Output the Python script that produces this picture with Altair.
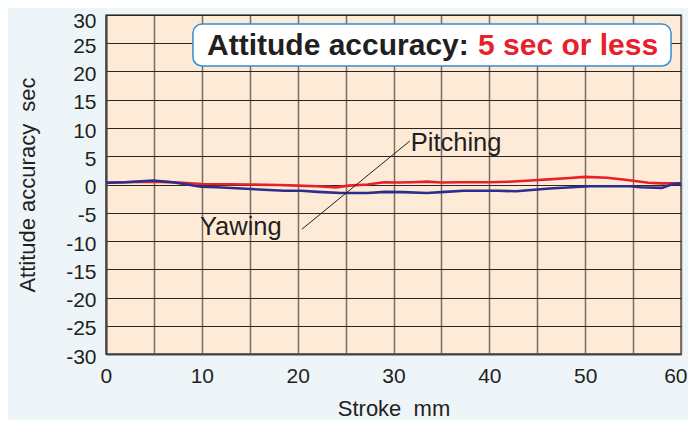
import altair as alt
import pandas as pd

# ---- data ----
pitch_x = [0, 2, 5, 8, 10, 13, 15, 18, 20, 22, 24, 25.3, 27.3, 29, 30.5, 32, 33.5, 35, 37, 40, 42, 44.3, 46.2, 48, 50, 52.3, 54.4, 56.6, 58, 60]
pitch_y = [0.3, 0.4, 0.5, 0.3, 0.1, 0.05, 0.0, -0.1, -0.2, -0.3, -0.5, -0.2, 0.0, 0.4, 0.35, 0.4, 0.5, 0.35, 0.4, 0.4, 0.5, 0.7, 0.9, 1.1, 1.35, 1.2, 0.8, 0.3, 0.2, 0.2]

yaw_x = [0, 2, 4.9, 7, 9.9, 11.6, 15.1, 18.6, 20.4, 22.1, 24.5, 27.3, 29.1, 31, 33.5, 35.4, 37.3, 40.9, 42.8, 46.3, 50.5, 54.7, 55.8, 58, 59, 60]
yaw_y = [0.3, 0.4, 0.7, 0.4, -0.4, -0.5, -0.8, -1.1, -1.1, -1.3, -1.5, -1.5, -1.3, -1.35, -1.5, -1.3, -1.1, -1.1, -1.2, -0.7, -0.3, -0.3, -0.5, -0.6, 0.0, 0.2]

series_names = ["Pitching", "Yawing"]
series_colors = ["#e8202a", "#2b2e8c"]

x_ticks = list(range(0, 61, 5))
y_ticks = list(range(-30, 31, 5))

# annotation labels (data coordinates)
label_text = ["Pitching", "Yawing"]
label_x = [31.8, 9.8]
label_y = [7.35, -7.6]
leader_x = [20.45]
leader_y = [-7.9]
leader_x2 = [31.7]
leader_y2 = [7.7]

# title box (data coordinates)
box_x = [9.07]
box_x2 = [58.96]
box_y = [28.4]
box_y2 = [20.97]
title_parts = ["Attitude accuracy:", "5 sec or less"]
title_x = [10.54, 38.82]
title_y = [24.6, 24.6]
title_colors = ["#231f20", "#e8202a"]

FONT = "Liberation Sans"

df = pd.concat([
    pd.DataFrame({"x": pitch_x, "y": pitch_y, "s": "Pitching"}),
    pd.DataFrame({"x": yaw_x, "y": yaw_y, "s": "Yawing"}),
])

xscale = alt.Scale(domain=[0, 60], nice=False, zero=False)
yscale = alt.Scale(domain=[-30, 30], nice=False, zero=False)

xaxis = alt.Axis(
    values=x_ticks,
    labelExpr="datum.value % 10 == 0 ? '' + datum.value : ''",
    title="Stroke\u00a0 mm",
    ticks=False,
    grid=True,
    gridColor="#7a6c62",
    gridWidth=1.5,
    domainColor="#444444",
    domainWidth=2,
    labelFont=FONT,
    labelFontSize=21,
    labelColor="#231f20",
    labelPadding=11,
    labelFlush=True,
    labelFlushOffset=6,
    labelOverlap=False,
    titleFont=FONT,
    titleFontSize=22,
    titleFontWeight="normal",
    titleColor="#231f20",
    titlePadding=12,
)
yaxis = alt.Axis(
    values=y_ticks,
    labelExpr="'' + datum.value",
    title="Attitude accuracy\u00a0 sec",
    ticks=False,
    grid=True,
    gridColor="#2a2626",
    gridWidth=1,
    domainColor="#444444",
    domainWidth=2,
    labelFont=FONT,
    labelFontSize=21,
    labelColor="#231f20",
    labelPadding=10,
    labelOffset={"condition": {"test": "datum.value == 30", "value": 6}, "value": 3},
    labelFlush=False,
    labelOverlap=False,
    titleFont=FONT,
    titleFontSize=22,
    titleFontWeight="normal",
    titleColor="#231f20",
    titlePadding=26,
)

X = lambda f: alt.X(f, scale=xscale, axis=xaxis)
Y = lambda f: alt.Y(f, scale=yscale, axis=yaxis)

lines = alt.Chart(df).mark_line(strokeWidth=2.6).encode(
    x=X("x:Q"),
    y=Y("y:Q"),
    color=alt.Color("s:N", scale=alt.Scale(domain=series_names, range=series_colors), legend=None),
)

leader = alt.Chart(pd.DataFrame({"x": leader_x, "y": leader_y, "x2": leader_x2, "y2": leader_y2})).mark_rule(
    color="#231f20", strokeWidth=1
).encode(x=X("x:Q"), y=Y("y:Q"), x2="x2:Q", y2="y2:Q")

labels = alt.Chart(pd.DataFrame({"x": label_x, "y": label_y, "t": label_text})).mark_text(
    align="left", baseline="middle", font=FONT, fontSize=25.5, color="#231f20"
).encode(x=X("x:Q"), y=Y("y:Q"), text="t:N")

box = alt.Chart(pd.DataFrame({"x": box_x, "x2": box_x2, "y": box_y, "y2": box_y2})).mark_rect(
    fill="white", stroke="#2f8fd6", strokeWidth=1.5, cornerRadius=9
).encode(x=X("x:Q"), y=Y("y:Q"), x2="x2:Q", y2="y2:Q")

title = alt.Chart(pd.DataFrame({"x": title_x, "y": title_y, "t": title_parts, "c": title_colors})).mark_text(
    align="left", baseline="middle", font=FONT, fontSize=30, fontWeight="bold"
).encode(x=X("x:Q"), y=Y("y:Q"), text="t:N", color=alt.Color("c:N", scale=None))

chart = alt.layer(lines, leader, labels, box, title).properties(
    width=575,
    height=339,
    autosize=alt.AutoSizeParams(type="none"),
    padding={"left": 98, "top": 7, "right": 7, "bottom": 66},
    background="#eef5f8",
).configure_view(
    fill="#fdebd8",
    stroke="#5a514b",
    strokeWidth=1.5,
)

chart.save("out.html", embed_options={"renderer": "svg", "actions": False})
